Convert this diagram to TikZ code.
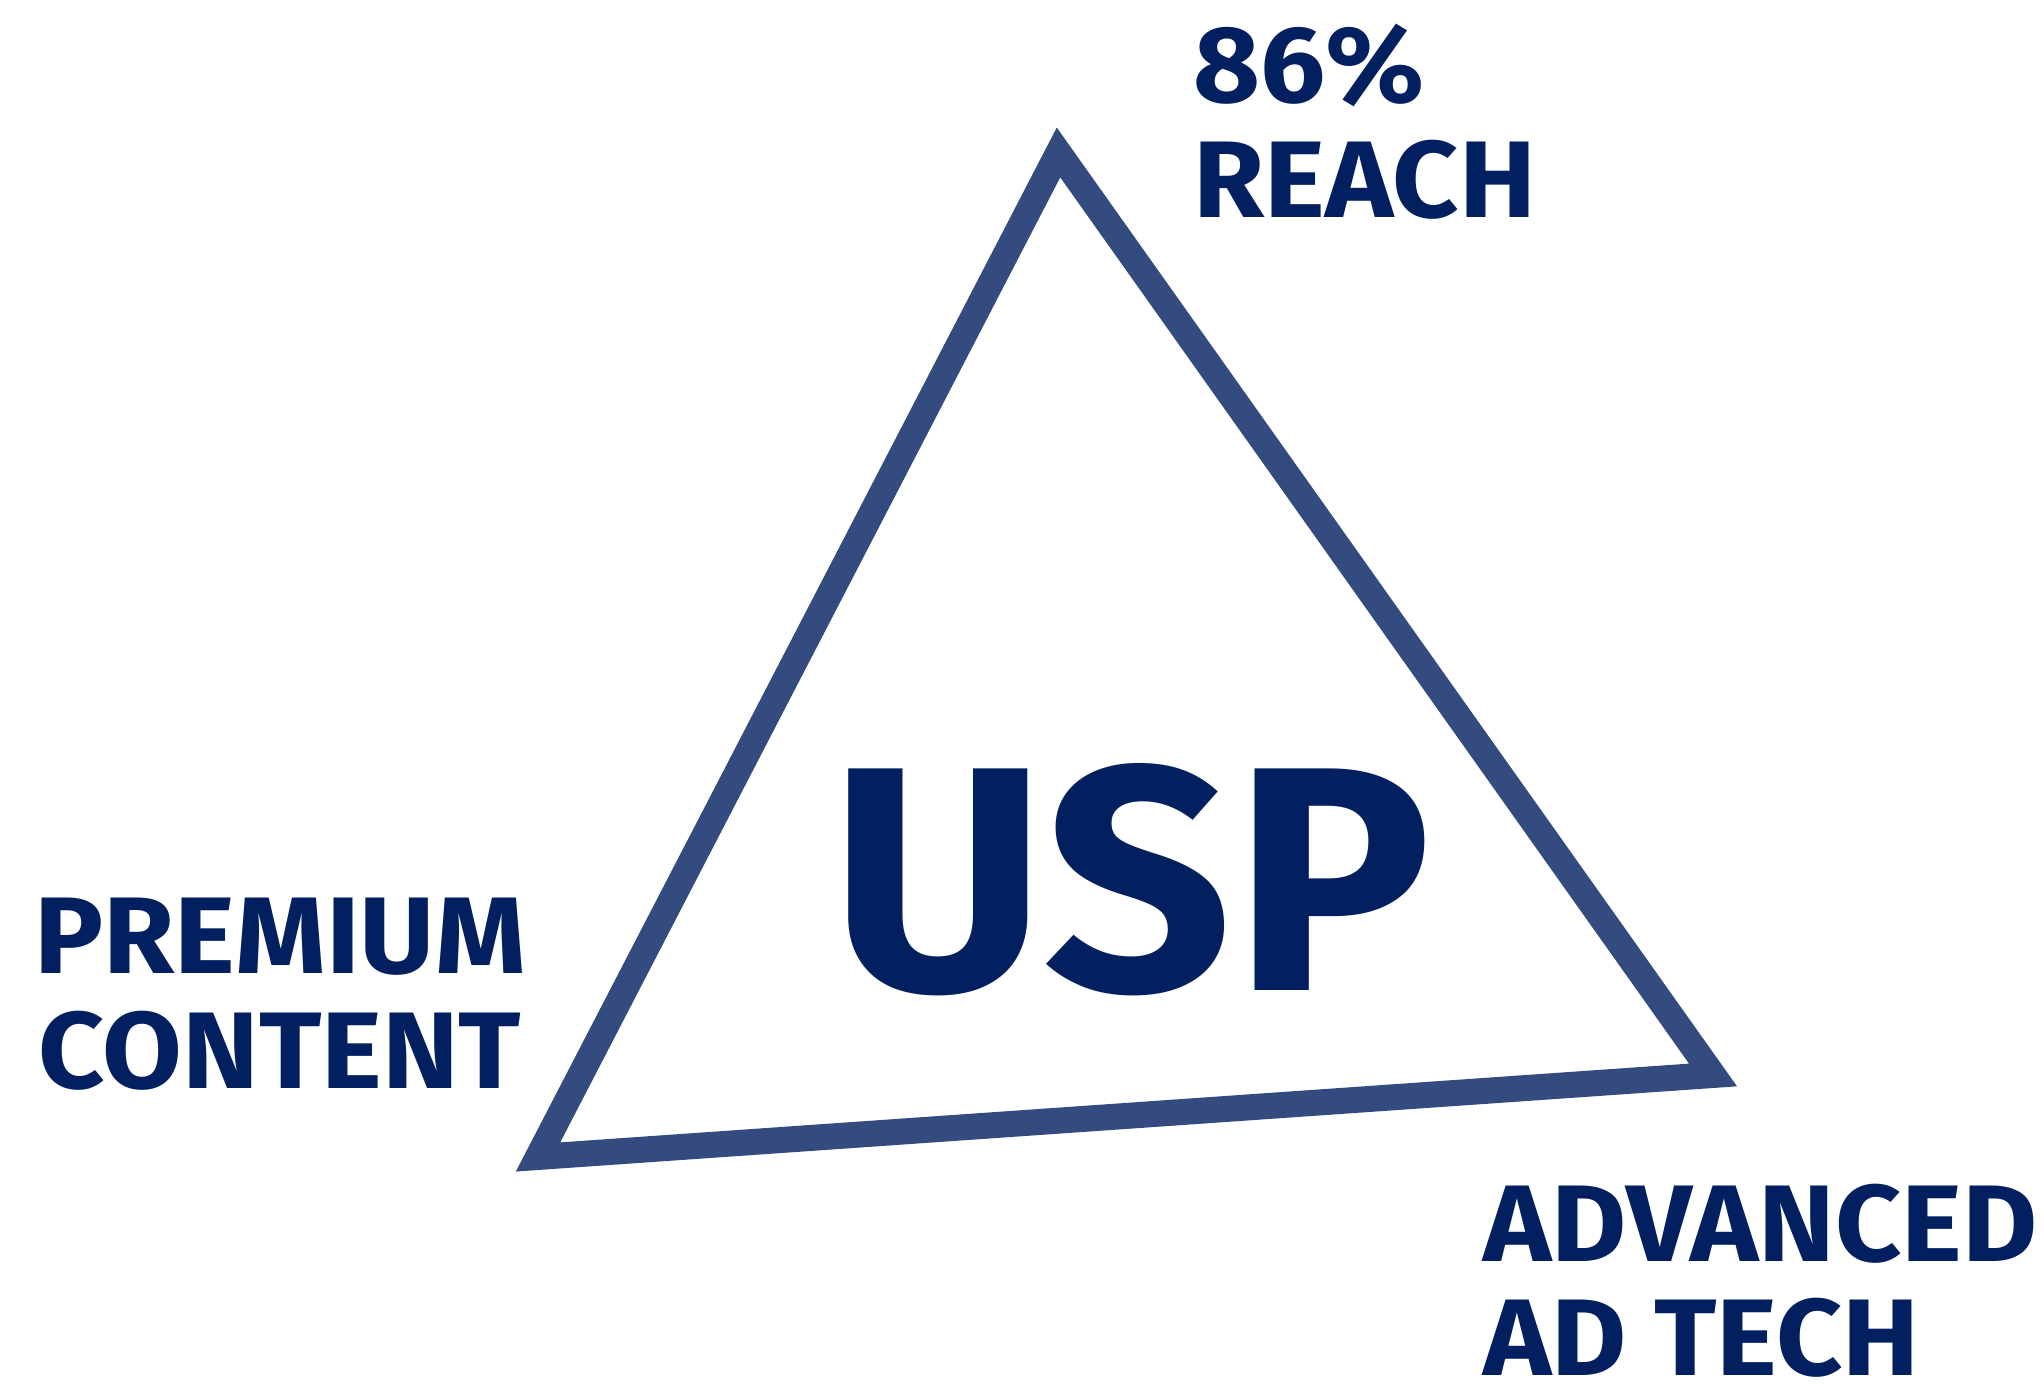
\documentclass[tikz,border=0pt]{standalone}
\usepackage{fontspec}
\setmainfont{Fira Sans}
\newfontfamily\lblfont{Fira Sans}[FakeStretch=1.06]
\newfontfamily\uspfont{Fira Sans}[FakeStretch=1.035]
\definecolor{navy}{RGB}{2,32,96}
\definecolor{edgeblue}{RGB}{51,75,126}
\begin{document}
\begin{tikzpicture}[
	lbl/.style={font=\lblfont\fontsize{31}{32.7}\selectfont\bfseries, text=navy, inner sep=0pt},
	side/.style={draw=edgeblue, line width=0.26cm, line join=miter}]
	\useasboundingbox (0,0) rectangle (20.44,13.84);
	\coordinate (T) at (10.585,12.315);
	\coordinate (R) at (17.13,3.09);
	\coordinate (L) at (5.38,2.27);
	\draw[side] (T) -- (R) -- (L) -- cycle;
	\node (U) [lbl, font=\uspfont\fontsize{91}{91}\selectfont\bfseries, anchor=base] at (11.31,3.93) {USP};
	\node (Re) [lbl, align=left, anchor=north west] at (11.93,13.61) {86\%\\REACH};
	\node (Pc) [lbl, align=center, anchor=north] at (2.80,4.87) {PREMIUM\\CONTENT};
	\node (At) [lbl, align=left, anchor=north west, text depth=0pt] at (14.83,2.01) {ADVANCED\\AD TECH};
\end{tikzpicture}
\end{document}
